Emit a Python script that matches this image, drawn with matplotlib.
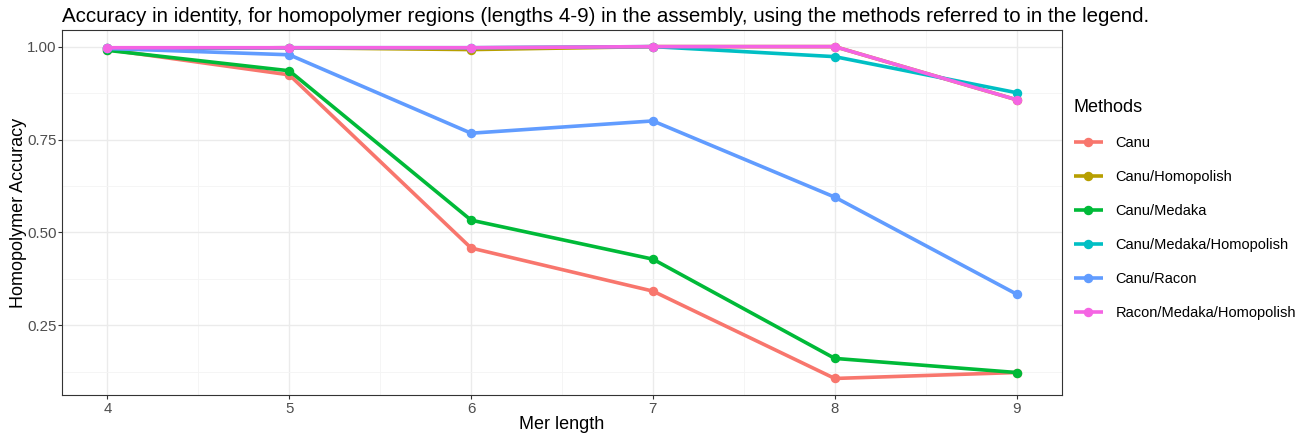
import matplotlib
matplotlib.use("Agg")
import matplotlib.pyplot as plt
from matplotlib.ticker import MultipleLocator, FixedLocator

plt.rcParams['font.family'] = ['Liberation Sans', 'DejaVu Sans']

mer_length = [4, 5, 6, 7, 8, 9]
methods = ["Canu", "Canu/Homopolish", "Canu/Medaka", "Canu/Medaka/Homopolish",
           "Canu/Racon", "Racon/Medaka/Homopolish"]
canu = [0.992, 0.924, 0.458, 0.342, 0.107, 0.123]
canu_homopolish = [0.995, 0.997, 0.992, 1.000, 1.000, 0.857]
canu_medaka = [0.990, 0.935, 0.533, 0.428, 0.161, 0.123]
canu_medaka_homopolish = [0.995, 0.997, 0.997, 1.000, 0.973, 0.876]
canu_racon = [0.995, 0.978, 0.767, 0.800, 0.595, 0.334]
racon_medaka_homopolish = [0.997, 0.997, 0.997, 1.000, 1.000, 0.857]
series = [canu, canu_homopolish, canu_medaka, canu_medaka_homopolish,
          canu_racon, racon_medaka_homopolish]
colors = ["#F8766D", "#B79F00", "#00BA38", "#00BFC4", "#619CFF", "#F564E3"]

W, H = 1309, 437
fig = plt.figure(figsize=(W / 100, H / 100), dpi=100)
ax = fig.add_axes([62 / W, 1 - 395 / H, (1062 - 62) / W, (395 - 30) / H])

for name, vals, c in zip(methods, series, colors):
    ax.plot(mer_length, vals, color=c, lw=2.6, marker="o", ms=5.8,
            label=name, solid_capstyle="butt")

ax.set_xlim(3.75, 9.25)
ax.set_ylim(0.0625, 1.0447)
ax.xaxis.set_major_locator(FixedLocator(mer_length))
ax.xaxis.set_minor_locator(MultipleLocator(0.5))
ax.yaxis.set_major_locator(FixedLocator([0.25, 0.5, 0.75, 1.0]))
ax.yaxis.set_minor_locator(FixedLocator([0.125, 0.375, 0.625, 0.875]))
ax.set_yticklabels(["0.25", "0.50", "0.75", "1.00"])
ax.grid(which="major", color="#EBEBEB", lw=1.0)
ax.grid(which="minor", color="#F4F4F4", lw=0.6)
ax.set_axisbelow(True)
ax.tick_params(which="major", length=3, color="#333333", labelcolor="#4D4D4D",
               labelsize=10.8)
ax.tick_params(axis="x", which="major", pad=2.0)
ax.tick_params(axis="y", which="major", pad=1.0)
ax.tick_params(which="minor", length=0)
for s in ax.spines.values():
    s.set_color("#333333")
    s.set_linewidth(0.8)

ax.set_xlabel("Mer length", fontsize=13, labelpad=0)
ax.set_ylabel("Homopolymer Accuracy", fontsize=13)
ax.yaxis.set_label_coords((27 - 62) / 1000, 0.5)
fig.text(62 / W, 1 - 17 / H,
         "Accuracy in identity, for homopolymer regions (lengths 4-9) in the assembly, using the methods referred to in the legend.",
         fontsize=14.75, ha="left", va="center")

leg = fig.legend(loc="upper left", bbox_to_anchor=(1068 / W, 1 - 93 / H),
                 frameon=False, title="Methods", fontsize=10.5,
                 title_fontsize=13, labelspacing=1.37, handlelength=2.0,
                 handletextpad=0.85, borderaxespad=0)
leg._legend_box.align = "left"

fig.savefig("out.png", dpi=100)
